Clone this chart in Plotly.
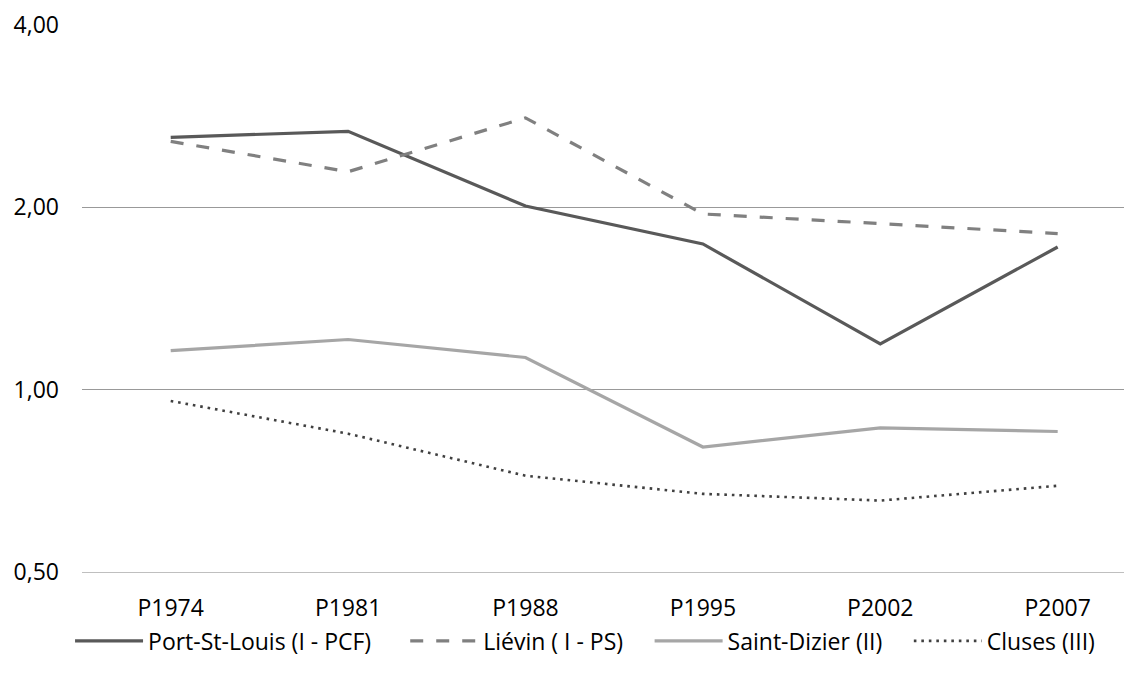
import plotly.graph_objects as go

categories = ["P1974", "P1981", "P1988", "P1995", "P2002", "P2007"]
port_st_louis = [2.61, 2.67, 2.01, 1.74, 1.19, 1.72]
lievin = [2.57, 2.29, 2.81, 1.95, 1.88, 1.81]
saint_dizier = [1.16, 1.21, 1.13, 0.804, 0.865, 0.853]
cluses = [0.958, 0.846, 0.721, 0.673, 0.656, 0.694]
y_ticks = [0.5, 1, 2, 4]

FONT = "Open Sans"
FS = 23

fig = go.Figure()
fig.add_trace(go.Scatter(x=categories, y=port_st_louis, mode="lines", name="Port-St-Louis (I - PCF)",
                         legend="legend", line=dict(color="#595959", width=3.2)))
fig.add_trace(go.Scatter(x=categories, y=lievin, mode="lines", name="Liévin ( I - PS)",
                         legend="legend2", line=dict(color="#808080", width=3.2, dash="13px,13px")))
fig.add_trace(go.Scatter(x=categories, y=saint_dizier, mode="lines", name="Saint-Dizier (II)",
                         legend="legend3", line=dict(color="#A6A6A6", width=3.2)))
fig.add_trace(go.Scatter(x=categories, y=cluses, mode="lines", name="Cluses (III)",
                         legend="legend4", line=dict(color="#404040", width=2.6, dash="2.6px,4.9px")))


def leg(x):
    return dict(orientation="h", xref="paper", x=x, xanchor="left",
                y=-0.126, yanchor="middle", font=dict(family=FONT, size=FS, color="#000000"),
                itemwidth=68, bgcolor="rgba(0,0,0,0)")


fig.update_layout(
    width=1132, height=675,
    margin=dict(l=74, r=0, t=17, b=111),
    paper_bgcolor="white", plot_bgcolor="white",
    separators=",.",
    font=dict(family=FONT, size=FS, color="#000000"),
    showlegend=True,
    legend=leg(-0.0113),
    legend2=leg(0.3055),
    legend3=leg(0.5365),
    legend4=leg(0.7815),
    xaxis=dict(type="category", range=[-0.5, 5.464], showgrid=False, zeroline=False,
               showline=True, linecolor="#BFBFBF", linewidth=1, ticks="",
               ticklabelstandoff=15, tickfont=dict(family=FONT, size=FS, color="#000000")),
    yaxis=dict(type="log", range=[-0.30103, 0.60206], tickvals=y_ticks,
               tickformat=".2f", showgrid=True, gridcolor="#999999", gridwidth=1,
               zeroline=False, showline=False, ticks="", ticklabelstandoff=22,
               tickfont=dict(family=FONT, size=FS, color="#000000")),
)

fig.write_html("out.html")
